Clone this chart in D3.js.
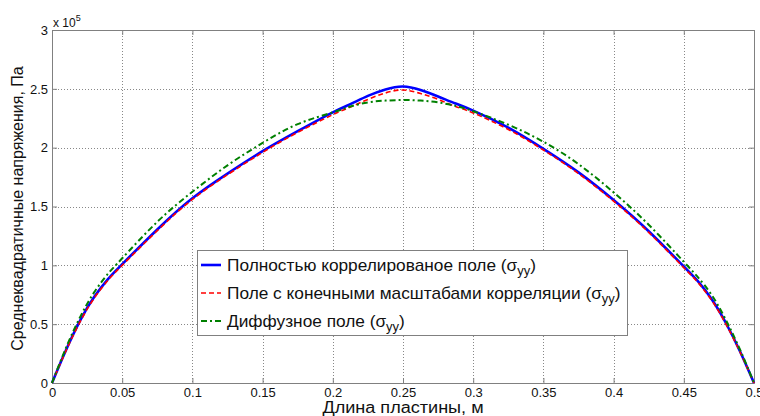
<!DOCTYPE html>
<html><head><meta charset="utf-8">
<script src="https://cdn.jsdelivr.net/npm/d3@7"></script>
<style>body{margin:0;background:#fff;}svg{display:block;font-family:"Liberation Sans",Arial,sans-serif;}</style>
</head><body>
<svg id="c" width="760" height="416"></svg>
<script>
const xs =       [0, 0.01, 0.02, 0.03, 0.04, 0.05, 0.075, 0.1, 0.125, 0.15, 0.175, 0.2, 0.2125, 0.225, 0.2375, 0.25, 0.2625, 0.275, 0.2875, 0.3, 0.325, 0.35, 0.375, 0.4, 0.425, 0.45, 0.46, 0.47, 0.48, 0.49, 0.5];
const fullCorr = [0, 0.28, 0.53, 0.73, 0.885, 1.01, 1.305, 1.57, 1.78, 1.97, 2.14, 2.30, 2.37, 2.44, 2.495, 2.52, 2.49, 2.435, 2.375, 2.315, 2.17, 1.99, 1.79, 1.555, 1.29, 0.99, 0.865, 0.71, 0.51, 0.27, 0];
const finiteCorr=[0, 0.275, 0.52, 0.72, 0.875, 1.0, 1.295, 1.56, 1.77, 1.96, 2.13, 2.28, 2.345, 2.41, 2.465, 2.49, 2.46, 2.41, 2.35, 2.295, 2.155, 1.98, 1.78, 1.545, 1.28, 0.98, 0.855, 0.70, 0.50, 0.265, 0];
const diffuse =  [0, 0.30, 0.56, 0.77, 0.93, 1.06, 1.37, 1.625, 1.85, 2.04, 2.20, 2.30, 2.35, 2.385, 2.40, 2.405, 2.40, 2.385, 2.355, 2.31, 2.195, 2.05, 1.86, 1.62, 1.345, 1.03, 0.90, 0.745, 0.535, 0.285, 0];
const xTicks = [0, 0.05, 0.1, 0.15, 0.2, 0.25, 0.3, 0.35, 0.4, 0.45, 0.5];
const yTicks = [0, 0.5, 1, 1.5, 2, 2.5, 3];
const seriesNames = ["Полностью коррелированое поле (", "Поле с конечными масштабами корреляции (", "Диффузное поле ("];
const xLabel = "Длина пластины, м";
const yLabel = "Среднеквадратичные напряжения, Па";

const svg = d3.select("#c");
const L = 52, R = 754, T = 30, B = 383;
const x = d3.scaleLinear().domain([0, 0.5]).range([L, R]);
const y = d3.scaleLinear().domain([0, 3]).range([B, T]);

// grid
const g = svg.append("g");
g.selectAll(".vg").data(xTicks.slice(1, -1)).enter().append("line")
  .attr("x1", d => Math.round(x(d)) + 0.5).attr("x2", d => Math.round(x(d)) + 0.5)
  .attr("y1", T).attr("y2", B).attr("stroke", "#888").attr("stroke-dasharray", "1,2");
g.selectAll(".hg").data(yTicks.slice(1, -1)).enter().append("line")
  .attr("y1", d => Math.round(y(d)) + 0.5).attr("y2", d => Math.round(y(d)) + 0.5)
  .attr("x1", L).attr("x2", R).attr("stroke", "#888").attr("stroke-dasharray", "1,2");

// axes
const xAx = svg.append("g").attr("transform", `translate(0,${B})`)
  .call(d3.axisBottom(x).tickValues(xTicks).tickSize(-5).tickPadding(5).tickFormat(d => String(d)));
const xAxTop = svg.append("g").attr("transform", `translate(0,${T})`)
  .call(d3.axisTop(x).tickValues(xTicks).tickSize(-5).tickFormat(""));
const yAx = svg.append("g").attr("transform", `translate(${L},0)`)
  .call(d3.axisLeft(y).tickValues(yTicks).tickSize(-5).tickPadding(4).tickFormat(d => String(d)));
const yAxR = svg.append("g").attr("transform", `translate(${R},0)`)
  .call(d3.axisRight(y).tickValues(yTicks).tickSize(-5).tickFormat(""));
[xAx, xAxTop, yAx, yAxR].forEach(a => {
  a.selectAll("path").attr("stroke", "#808080");
  a.selectAll("line").attr("stroke", "#808080");
  a.selectAll("text").attr("fill", "#111").style("font-size", "13px").style("font-family", "Liberation Sans, Arial, sans-serif");
});

// exponent label
const ex = svg.append("text").attr("x", 53).attr("y", 27).attr("fill", "#111").style("font-size", "12px");
ex.append("tspan").text("x 10");
ex.append("tspan").attr("dy", -6).style("font-size", "9px").text("5");

// lines
const line = d3.line().x((d, i) => x(xs[i])).y(d => y(d)).curve(d3.curveNatural);
const styles = [
  {data: fullCorr, color: "#0000ff", w: 2.6, dash: null},
  {data: finiteCorr, color: "#ff0000", w: 1.6, dash: "5,3"},
  {data: diffuse, color: "#008000", w: 2, dash: "6,3,2,3"}
];
svg.append("g").selectAll("path").data(styles).enter().append("path")
  .attr("d", s => line(s.data)).attr("fill", "none")
  .attr("stroke", s => s.color).attr("stroke-width", s => s.w)
  .attr("stroke-dasharray", s => s.dash);

// legend
const lg = svg.append("g");
lg.append("rect").attr("x", 197.5).attr("y", 250.5).attr("width", 430).attr("height", 85)
  .attr("fill", "#fff").attr("stroke", "#808080");
const rowsY = [265, 293, 321];
styles.forEach((s, i) => {
  lg.append("line").attr("x1", 201).attr("x2", 221).attr("y1", rowsY[i]).attr("y2", rowsY[i])
    .attr("stroke", s.color).attr("stroke-width", s.w).attr("stroke-dasharray", s.dash);
  const t = lg.append("text").attr("transform", `translate(227,${rowsY[i] + 6}) scale(1.08,1)`)
    .attr("fill", "#111").style("font-size", "16px");
  t.append("tspan").text(seriesNames[i]);
  t.append("tspan").text("σ");
  t.append("tspan").attr("dy", 4).style("font-size", "12px").text("yy");
  t.append("tspan").attr("dy", -4).text(")");
});

// axis labels
svg.append("text").attr("transform", `translate(${(L + R) / 2},413) scale(1.13,1)`).attr("text-anchor", "middle")
  .attr("fill", "#111").style("font-size", "16px").text(xLabel);
svg.append("text").attr("transform", `translate(23,${(T + B) / 2 + 2}) rotate(-90)`).attr("text-anchor", "middle")
  .attr("fill", "#111").style("font-size", "16px").text(yLabel);
</script>
</body></html>
